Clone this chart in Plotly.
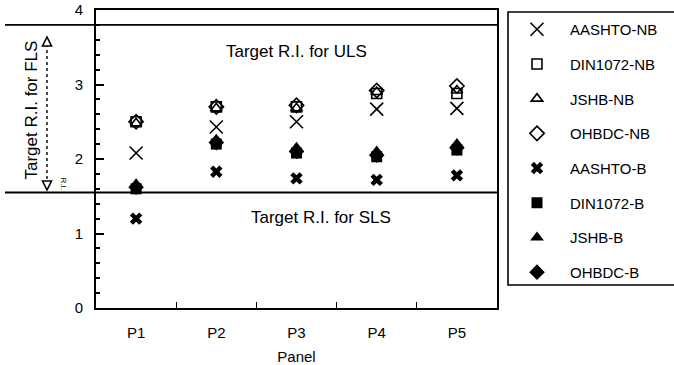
import plotly.graph_objects as go

# ---------------- data ----------------
panels = ["P1", "P2", "P3", "P4", "P5"]
series_names = ["AASHTO-NB", "DIN1072-NB", "JSHB-NB", "OHBDC-NB",
                "AASHTO-B", "DIN1072-B", "JSHB-B", "OHBDC-B"]
aashto_nb = [2.08, 2.43, 2.50, 2.67, 2.68]
din1072_nb = [2.50, 2.70, 2.70, 2.88, 2.88]
jshb_nb = [2.48, 2.68, 2.68, 2.90, 2.92]
ohbdc_nb = [2.50, 2.70, 2.72, 2.92, 2.98]
aashto_b = [1.20, 1.83, 1.74, 1.72, 1.78]
din1072_b = [1.60, 2.20, 2.08, 2.03, 2.12]
jshb_b = [1.66, 2.26, 2.15, 2.10, 2.20]
ohbdc_b = [1.62, 2.22, 2.10, 2.05, 2.15]
uls_level = 3.8
sls_level = 1.55
y_ticks = [0, 1, 2, 3, 4]

values = [aashto_nb, din1072_nb, jshb_nb, ohbdc_nb,
          aashto_b, din1072_b, jshb_b, ohbdc_b]
symbols = ["x-thin-open", "square-open", "triangle-up-open", "diamond-open",
           "x", "square", "triangle-up", "diamond"]
sizes = [13, 10, 10, 11, 11, 11, 12, 12]

# ---------------- layout geometry ----------------
W, H = 674, 365
ML, MR, MT, MB = 96, 177, 10, 57
PW = W - ML - MR
PH = H - MT - MB


def px(x):
    return (x - ML) / PW


def py(y):
    return (H - MB - y) / PH


FONT = "Liberation Sans, Arial, sans-serif"

fig = go.Figure()
for name, vals, sym, sz in zip(series_names, values, symbols, sizes):
    fig.add_trace(go.Scatter(
        x=panels, y=vals, mode="markers", name=name, legendgroup=name,
        marker=dict(symbol=sym, size=sz, color="black",
                    line=dict(color="black", width=1.6 if "open" in sym else 0)),
    ))

shapes = []
# target lines
for lvl in (uls_level, sls_level):
    shapes.append(dict(type="line", xref="paper", yref="y", x0=px(5), x1=1,
                       y0=lvl, y1=lvl, line=dict(color="black", width=1.8)))
# FLS double arrow
ax_x = 47
shapes.append(dict(type="line", xref="paper", yref="paper", x0=px(ax_x), x1=px(ax_x),
                   y0=py(44), y1=py(182), line=dict(color="black", width=1.4, dash="dot")))
for tip, base in ((37, 46), (190, 181)):
    path = "M {:.4f},{:.4f} L {:.4f},{:.4f} L {:.4f},{:.4f} Z".format(
        px(ax_x), py(tip), px(ax_x - 4.5), py(base), px(ax_x + 4.5), py(base))
    shapes.append(dict(type="path", xref="paper", yref="paper", path=path,
                       fillcolor="white", line=dict(color="black", width=1.6)))
# legend box
shapes.append(dict(type="rect", xref="paper", yref="paper", x0=px(508), x1=px(690),
                   y0=py(285), y1=py(12), line=dict(color="black", width=1.6)))

annotations = [
    dict(text="Target R.I. for ULS", x=2, y=3.44, xref="x", yref="y",
         showarrow=False, font=dict(size=17, color="black", family=FONT)),
    dict(text="Target R.I. for SLS", x=2.3, y=1.22, xref="x", yref="y",
         showarrow=False, font=dict(size=17, color="black", family=FONT)),
    dict(text="Target R.I. for FLS", x=px(20), y=py(110), xref="paper", yref="paper",
         textangle=-90, showarrow=False, font=dict(size=17, color="black", family=FONT)),
    dict(text="R.I.", x=px(57), y=py(183), xref="paper", yref="paper",
         textangle=90, showarrow=False, font=dict(size=8, color="black", family=FONT)),
]

fig.update_layout(
    width=W, height=H,
    margin=dict(l=ML, r=MR, t=MT, b=MB, autoexpand=False),
    paper_bgcolor="white", plot_bgcolor="white",
    font=dict(family=FONT, color="black", size=14),
    shapes=shapes, annotations=annotations,
    showlegend=True,
    legend=dict(x=px(504), y=py(13), xanchor="left", yanchor="top",
                bgcolor="rgba(0,0,0,0)", borderwidth=0,
                tracegroupgap=12.2, itemwidth=56,
                font=dict(size=15, family=FONT, color="black")),
    xaxis=dict(type="category", range=[-0.5, 4.5], showgrid=False,
               showline=True, linecolor="black", linewidth=1.6, mirror=True,
               ticks="inside", tickson="boundaries", ticklen=6, tickcolor="black",
               tickfont=dict(size=15), ticklabelstandoff=10,
               title=dict(text="Panel", font=dict(size=15), standoff=12)),
    yaxis=dict(range=[0, 4], tickvals=y_ticks, showgrid=False, zeroline=False,
               showline=True, linecolor="black", linewidth=1.6, mirror=True,
               ticks="inside", ticklen=8, tickcolor="black", tickwidth=1.5,
               minor=dict(dtick=0.2, ticks="inside", ticklen=4, tickcolor="black"),
               tickfont=dict(size=15), ticklabelstandoff=8),
)

fig.write_html("out.html")
